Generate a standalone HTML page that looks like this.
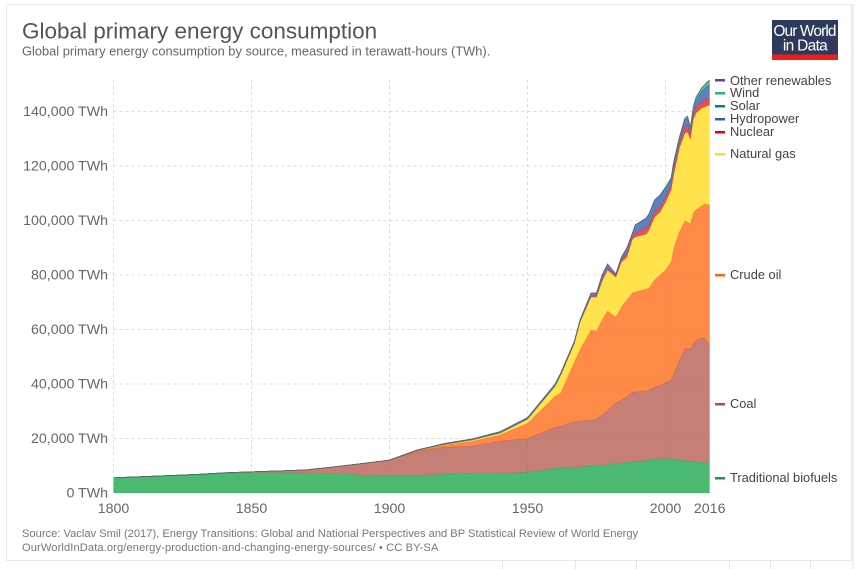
<!DOCTYPE html>
<html lang="en">
<head>
<meta charset="utf-8">
<title>Global primary energy consumption</title>
<style>
html,body{margin:0;padding:0;background:#fff;}
body{width:857px;height:569px;overflow:hidden;}
svg{display:block;font-family:"Liberation Sans",Arial,sans-serif;}
</style>
</head>
<body>
<svg id="chart" width="857" height="569" viewBox="0 0 857 569" xmlns="http://www.w3.org/2000/svg">
  <rect x="6.5" y="4.5" width="845" height="556" fill="#fff" stroke="#e8e8e8"/>
  <rect x="852" y="4" width="2" height="565" fill="#f1f1f1"/>
  <g stroke="#e6e6e6">
    <line x1="502.5" y1="561" x2="502.5" y2="569"/><line x1="575.5" y1="561" x2="575.5" y2="569"/>
    <line x1="636.5" y1="561" x2="636.5" y2="569"/><line x1="729.5" y1="561" x2="729.5" y2="569"/>
    <line x1="770.5" y1="561" x2="770.5" y2="569"/><line x1="810.5" y1="561" x2="810.5" y2="569"/>
  </g>
  <text x="22" y="38.5" font-size="22.5" fill="#555">Global primary energy consumption</text>
  <text x="22" y="55.5" font-size="12.85" fill="#666">Global primary energy consumption by source, measured in terawatt-hours (TWh).</text>
  <g>
    <rect x="772" y="20" width="66" height="40" fill="#2d3a5c"/>
    <rect x="772" y="54.5" width="66" height="5.5" fill="#f01c1c"/>
    <text x="804.5" y="36" font-size="15.5" fill="#fff" text-anchor="middle" letter-spacing="-0.9">Our World</text>
    <text x="805" y="50.5" font-size="15.5" fill="#fff" text-anchor="middle" letter-spacing="-0.7">in Data</text>
  </g>
  <g id="grid"></g>
  <g id="areas"></g>
  <g id="yTicks"></g>
  <g id="xTicks"></g>
  <g font-size="12.85" fill="#444">
    <g><rect x="715" y="79" width="10" height="2.5" fill="#6d3e91"/><text x="730" y="85">Other renewables</text></g>
    <g><rect x="715" y="92" width="10" height="2.5" fill="#2fb37e"/><text x="730" y="97">Wind</text></g>
    <g><rect x="715" y="105" width="10" height="2.5" fill="#00847e"/><text x="730" y="110">Solar</text></g>
    <g><rect x="715" y="118" width="10" height="2.5" fill="#3360a9"/><text x="730" y="123">Hydropower</text></g>
    <g><rect x="715" y="131" width="10" height="2.5" fill="#e3000f"/><text x="730" y="136">Nuclear</text></g>
    <g><rect x="715" y="153" width="10" height="2.5" fill="#fcd927"/><text x="730" y="158">Natural gas</text></g>
    <g><rect x="715" y="274" width="10" height="2.5" fill="#ff6600"/><text x="730" y="279">Crude oil</text></g>
    <g><rect x="715" y="403" width="10" height="2.5" fill="#b04a48"/><text x="730" y="408">Coal</text></g>
    <g><rect x="715" y="477" width="10" height="2.5" fill="#149c4b"/><text x="730" y="482">Traditional biofuels</text></g>
  </g>
  <g font-size="11.15" fill="#777">
    <text x="22" y="537">Source: Vaclav Smil (2017), Energy Transitions: Global and National Perspectives and BP Statistical Review of World Energy</text>
    <text x="22" y="551" letter-spacing="0.1">OurWorldInData.org/energy-production-and-changing-energy-sources/ • CC BY-SA</text>
  </g>
</svg>
<script>
const years = [1800,1810,1820,1830,1840,1850,1860,1870,1880,1890,1900,1910,1920,1930,1940,1950,1960,1962,1967,1969,1973,1975,1977,1979,1982,1984,1986,1988,1989,1993,1994,1996,1998,2000,2002,2003,2005,2007,2008,2009,2010,2011,2013,2014,2015,2016];
const biofuels = [5500,5900,6280,6650,7150,7500,7450,7300,7200,6600,6300,6400,6900,7200,7300,7500,9100,9150,9400,9600,9900,10000,10200,10400,10800,11000,11200,11400,11500,11900,12000,12200,12450,12700,12500,12400,12100,11900,11700,11600,11500,11400,11200,11150,11100,11000];
const coal = [100,100,120,150,250,300,650,1200,2400,4200,5700,9000,9900,10000,11700,12500,15000,15440,16660,16820,16890,17160,18430,19690,22230,23130,24030,25670,25570,25530,25800,26700,27190,27670,28970,31270,36340,40950,41150,41250,43180,44380,45680,45730,44680,42580];
const oil = [0,0,0,0,0,0,0,0,0,0,100,250,800,1800,2300,5600,11400,12110,22020,26060,33030,32300,34870,36700,31560,34130,35600,36330,36700,37430,37430,39270,40370,41470,43310,46240,47340,46980,46610,45880,48080,48080,48440,49180,50100,52110];
const gas = [0,0,0,0,0,0,0,0,0,0,0,100,300,500,700,1500,3800,6610,6970,10280,12110,12480,14310,15050,14680,16520,15780,19820,20190,20190,21290,23120,23120,24960,26420,27160,30830,32300,33030,31200,34130,35600,35970,35600,36150,36700];
const nuclear = [0,0,0,0,0,0,0,0,0,0,0,0,0,0,0,0,0,0,100,100,370,550,730,730,550,730,1470,1100,1470,2200,1840,1840,1840,1840,1840,2570,1840,2200,2570,2200,1840,2200,2200,2570,2570,2570];
const hydro = [0,0,0,0,0,0,0,0,0,0,0,50,300,350,500,600,700,730,630,630,1100,920,1470,1470,550,1100,1840,1100,2940,3670,4040,4350,4310,3520,2320,1900,1750,2650,2500,1200,1820,2470,3590,3850,4440,4550];
const solar = [0,0,0,0,0,0,0,0,0,0,0,0,0,0,0,0,0,0,0,0,0,0,0,0,0,0,0,0,0,0,0,0,0,0,0,0,10,20,30,50,70,100,150,170,180,200];
const wind = [0,0,0,0,0,0,0,0,0,0,0,0,0,0,0,0,0,0,0,0,0,0,0,0,0,0,0,0,0,0,0,20,50,90,170,200,300,450,550,700,800,850,1050,1150,1250,1350];
const otherRenewables = [0,0,0,0,0,0,0,0,0,0,0,0,0,0,0,0,0,0,0,0,0,0,0,0,0,0,0,0,0,0,0,30,40,60,80,100,140,180,220,250,250,250,350,330,370,500];
const yTickValues = [0,20000,40000,60000,80000,100000,120000,140000];
const xTickValues = [1800,1850,1900,1950,2000];
const xEndYear = 2016;

const NS = 'http://www.w3.org/2000/svg';
const plot = {left:113.5, right:709.7, bottom:493, pxPerUnit:2.725/1000};
const xScale = y => plot.left + (y - years[0]) * (plot.right - plot.left) / (xEndYear - years[0]);
const yScale = v => plot.bottom - v * plot.pxPerUnit;
const fmt = v => String(v).replace(/\B(?=(\d{3})+$)/g, ',') + ' TWh';

const grid = document.getElementById('grid');
yTickValues.forEach(v => {
  if (v === 0) return;
  const l = document.createElementNS(NS, 'line');
  
  
  l.setAttribute('x1', plot.left); l.setAttribute('x2', plot.right);
  l.setAttribute('y1', yScale(v)); l.setAttribute('y2', yScale(v));
  l.setAttribute('stroke', '#dcdcdc'); l.setAttribute('stroke-dasharray', '3,3');
  grid.appendChild(l);
});
xTickValues.forEach(y => {
  const l = document.createElementNS(NS, 'line');
  
  
  l.setAttribute('x1', xScale(y)); l.setAttribute('x2', xScale(y));
  l.setAttribute('y1', 80); l.setAttribute('y2', plot.bottom);
  l.setAttribute('stroke', '#dcdcdc'); l.setAttribute('stroke-dasharray', '3,3');
  grid.appendChild(l);
});

const yG = document.getElementById('yTicks');
yTickValues.forEach(v => {
  const t = document.createElementNS(NS, 'text');
  
  
  t.setAttribute('x', 108); t.setAttribute('y', yScale(v) + 4.7);
  t.setAttribute('text-anchor', 'end'); t.setAttribute('font-size', '14.2'); t.setAttribute('fill', '#666');
  t.textContent = fmt(v);
  yG.appendChild(t);
});
const xG = document.getElementById('xTicks');
xTickValues.concat([xEndYear]).forEach(y => {
  const t = document.createElementNS(NS, 'text');
  
  
  t.setAttribute('x', xScale(y)); t.setAttribute('y', 513);
  t.setAttribute('text-anchor', 'middle'); t.setAttribute('font-size', '14.2'); t.setAttribute('fill', '#666');
  t.textContent = y;
  xG.appendChild(t);
});

const stackOrder = [
  {name:'traditional-biofuels', values:biofuels, fill:'#1ea94d', line:'#1ea94d'},
  {name:'coal', values:coal, fill:'#b75f54', line:'#a04a40'},
  {name:'crude-oil', values:oil, fill:'#ff6d19', line:'#b06a40'},
  {name:'natural-gas', values:gas, fill:'#ffdb1f', line:'#8a8040'},
  {name:'nuclear', values:nuclear, fill:'#eb1d2a', line:'#8a4a50'},
  {name:'hydropower', values:hydro, fill:'#3263b0', line:'#3f5f85'},
  {name:'solar', values:solar, fill:'#00847e', line:'#3f6a70'},
  {name:'wind', values:wind, fill:'#2fb37e', line:'#4f7a70'},
  {name:'other-renewables', values:otherRenewables, fill:'#6d3e91', line:'#55606a'}
];
const areas = document.getElementById('areas');
let base = years.map(() => 0);
stackOrder.forEach(s => {
  const top = base.map((b, i) => b + s.values[i]);
  const upper = years.map((y, i) => xScale(y).toFixed(2) + ',' + yScale(top[i]).toFixed(2));
  const lower = years.map((y, i) => xScale(y).toFixed(2) + ',' + yScale(base[i]).toFixed(2)).reverse();
  const area = document.createElementNS(NS, 'polygon');
  
  
  area.setAttribute('points', upper.concat(lower).join(' '));
  area.setAttribute('fill', s.fill);
  area.setAttribute('fill-opacity', '0.8');
  areas.appendChild(area);
  const line = document.createElementNS(NS, 'polyline');
  
  
  line.setAttribute('points', upper.join(' '));
  line.setAttribute('fill', 'none');
  line.setAttribute('stroke', s.line);
  line.setAttribute('stroke-width', '0.6');
  line.setAttribute('stroke-opacity', '0.7');
  areas.appendChild(line);
  base = top;
});
</script>
</body>
</html>
